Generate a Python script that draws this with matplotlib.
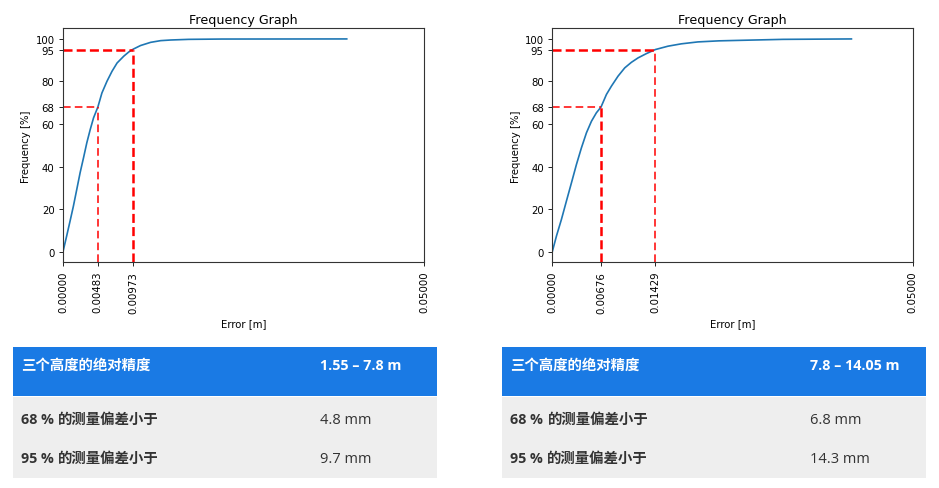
import matplotlib
matplotlib.use('Agg')
import matplotlib.pyplot as plt
from matplotlib.patches import Rectangle

# ---------------- data ----------------
left_err = [0.0, 0.00051, 0.00098, 0.00144, 0.00191, 0.00237, 0.00284, 0.0033,
            0.00377, 0.00423, 0.00483, 0.00539, 0.00609, 0.00679, 0.00749, 0.00842,
            0.00912, 0.00973, 0.01074, 0.01214, 0.01353, 0.01493, 0.0174, 0.022, 0.0393]
left_freq = [0.0, 7.4, 14.4, 21.4, 29.3, 37.1, 44.1, 51.2, 57.4, 62.9, 68.0, 74.6,
             80.1, 84.8, 88.7, 91.9, 93.9, 95.2, 96.9, 98.4, 99.2, 99.5, 99.8, 99.95, 100.0]
right_err = [0.0, 0.00058, 0.00127, 0.00196, 0.00266, 0.00335, 0.00404, 0.00474,
             0.00543, 0.00612, 0.00676, 0.00751, 0.0082, 0.00912, 0.01005, 0.01097,
             0.0119, 0.01305, 0.01429, 0.01606, 0.0179, 0.0202, 0.0231, 0.02683,
             0.032, 0.0415]
right_freq = [0.0, 7.4, 15.2, 23.8, 32.4, 41.0, 48.8, 55.9, 61.3, 65.3, 68.0, 73.9,
              77.8, 82.5, 86.4, 89.0, 91.1, 93.1, 95.0, 96.6, 97.7, 98.6, 99.1, 99.4,
              99.8, 100.0]
left_marks = [0.00483, 0.00973]
right_marks = [0.00676, 0.01429]
levels = [68, 95]
yticks = [0, 20, 40, 60, 68, 80, 95, 100]
x_max = 0.05

title = "Frequency Graph"
xlabel = "Error [m]"
ylabel = "Frequency [%]"

table_header = "三个高度的绝对精度"
left_range = "1.55 – 7.8 m"
right_range = "7.8 – 14.05 m"
row_labels = ["68 % 的测量偏差小于", "95 % 的测量偏差小于"]
left_values = ["4.8 mm", "9.7 mm"]
right_values = ["6.8 mm", "14.3 mm"]

# ---------------- figure ----------------
W, H = 939, 489
plt.rcParams['lines.scale_dashes'] = False
fig = plt.figure(figsize=(W / 100, H / 100), dpi=100)


def fx(x):
    return x / W


def fy(y):
    return 1 - y / H


THICK = dict(lw=1.8, dashes=(6.5, 3))
THIN = dict(lw=1.1, dashes=(5.5, 3))


def make_chart(x0px, x1px, err, freq, marks, vstyles):
    ax = fig.add_axes([fx(x0px), fy(263.3), (x1px - x0px) / W, (263.3 - 29.3) / H])
    ax.plot(err, freq, color='#1f77b4', lw=1.2)
    hstyles = [THIN, THICK]
    for lvl, m, hs, vs in zip(levels, marks, hstyles, vstyles):
        ax.plot([0, m], [lvl, lvl], color='red', **hs)
        ax.plot([m, m], [-5, lvl], color='red', **vs)
    ax.set_xlim(0, x_max)
    ax.set_ylim(-5, 105)
    ax.set_yticks(yticks)
    ax.set_xticks([0.0] + marks + [x_max])
    ax.set_xticklabels(['%.5f' % v for v in [0.0] + marks + [x_max]], rotation=90)
    ax.tick_params(labelsize=7.3, length=2.6, width=0.6)
    for s in ax.spines.values():
        s.set_linewidth(0.8)
        s.set_color('#333333')
    ax.set_title(title, fontsize=9.1, pad=4)
    ax.set_xlabel(xlabel, fontsize=7.3, labelpad=4)
    ax.set_ylabel(ylabel, fontsize=7.3, labelpad=3)
    return ax


make_chart(63, 424, left_err, left_freq, left_marks, [THIN, THICK])
make_chart(552.3, 912.7, right_err, right_freq, right_marks, [THICK, THIN])

# ---------------- tables ----------------
BLUE = '#1a7ae4'
GRAY = '#eeeeee'
TXT = '#333333'
renderer = fig.canvas.get_renderer()


def split_label(s):
    for i, ch in enumerate(s):
        if ord(ch) > 0x2E80:
            return s[:i], s[i:]
    return s, ''


def make_table(x0, x1, xval, rng, values):
    fig.add_artist(Rectangle((fx(x0), fy(396.7)), (x1 - x0) / W, (396.7 - 348.3) / H,
                             transform=fig.transFigure, facecolor=BLUE, edgecolor='none'))
    fig.add_artist(Rectangle((fx(x0), fy(478.7)), (x1 - x0) / W, (478.7 - 397.7) / H,
                             transform=fig.transFigure, facecolor=GRAY, edgecolor='none'))
    fig.text(fx(x0 + 7.7), fy(366), table_header, color='white', va='center', ha='left',
             family=['Noto Sans CJK SC'], fontweight='bold', fontsize=10.4)
    fig.text(fx(xval), fy(366), rng, color='white', va='center', ha='left',
             family=['Open Sans', 'DejaVu Sans'], fontweight='bold', fontsize=10.3)
    for yy, lab, val in zip([420, 459.3], row_labels, values):
        pre, cjk = split_label(lab)
        t1 = fig.text(fx(x0 + 7.7), fy(yy), pre.rstrip(), color=TXT, va='center', ha='left',
                      family=['Open Sans'], fontweight='bold', fontsize=10.3)
        bb = t1.get_window_extent(renderer)
        fig.text(fx(bb.x1 + 4.5), fy(yy), cjk, color=TXT, va='center', ha='left',
                 family=['Noto Sans CJK SC'], fontweight='bold', fontsize=10.4)
        fig.text(fx(xval), fy(yy), val, color=TXT, va='center', ha='left',
                 family=['Open Sans', 'DejaVu Sans'], fontsize=10.5)


make_table(13, 436.7, 319.5, left_range, left_values)
make_table(502.3, 926, 809.5, right_range, right_values)

fig.savefig('out.png', dpi=100)
